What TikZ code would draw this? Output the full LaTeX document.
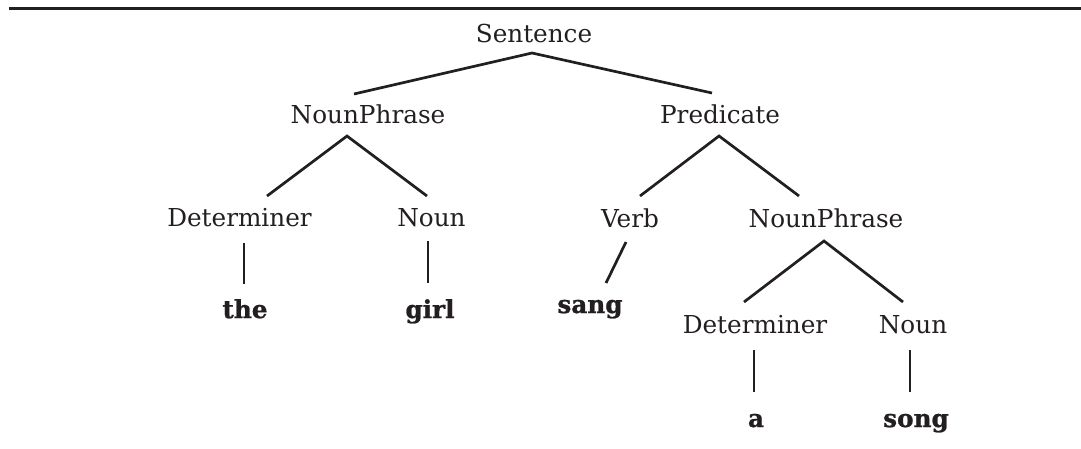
\documentclass[tikz,border=0pt]{standalone}
\usepackage{fontspec}
\setmainfont{DejaVu Serif}[BoldFeatures={FakeBold=1}]
\usetikzlibrary{calc}
\definecolor{ink}{RGB}{35,31,32}
\begin{document}
\begin{tikzpicture}[x=1pt,y=-1pt,
  lbl/.style={anchor=base,inner sep=0pt,text=ink,font=\fontsize{24.7}{30}\selectfont},
  leaf/.style={lbl,font=\fontsize{24.7}{30}\selectfont\bfseries},
  edge/.style={draw=ink,line width=2.7pt}]
\useasboundingbox (0,0) rectangle (1081,448);
\draw[ink,line width=3pt] (9,8.5) -- (1081,8.5);
% nodes
\node[lbl] (S) at (534,42) {Sentence};
\node[lbl] (NP1) at (368,123) {NounPhrase};
\node[lbl] (Pred) at (720,123) {Predicate};
\node[lbl] (Det1) at (239.5,226) {Determiner};
\node[lbl] (Noun1) at (431.5,226) {Noun};
\node[lbl] (Verb) at (630,227) {Verb};
\node[lbl] (NP2) at (826,227) {NounPhrase};
\node[leaf] (the) at (245,318) {the};
\node[leaf] (girl) at (430,318) {girl};
\node[leaf] (sang) at (590,313) {sang};
\node[lbl] (Det2) at (755,333) {Determiner};
\node[lbl] (Noun2) at (913,333) {Noun};
\node[leaf] (a) at (756,427) {a};
\node[leaf] (song) at (916,427) {song};
% connector end points
\coordinate (S-b) at ($(S.base)+(-2,11)$);
\coordinate (NP1-t) at ($(NP1.base)+(-14,-29)$);
\coordinate (NP1-b) at ($(NP1.base)+(-21,13)$);
\coordinate (Pred-t) at ($(Pred.base)+(-8,-30)$);
\coordinate (Pred-b) at ($(Pred.base)+(-1,13)$);
\coordinate (Det1-t) at ($(Det1.base)+(27.5,-30)$);
\coordinate (Det1-b) at ($(Det1.base)+(4.5,17)$);
\coordinate (Noun1-t) at ($(Noun1.base)+(-4.5,-30)$);
\coordinate (Noun1-b) at ($(Noun1.base)+(-3.5,15)$);
\coordinate (Verb-t) at ($(Verb.base)+(10,-31)$);
\coordinate (Verb-b) at ($(Verb.base)+(-4,15)$);
\coordinate (NP2-t) at ($(NP2.base)+(-27,-31)$);
\coordinate (NP2-b) at ($(NP2.base)+(-2,14)$);
\coordinate (the-t) at ($(the.base)+(-1,-34)$);
\coordinate (girl-t) at ($(girl.base)+(-2,-35)$);
\coordinate (sang-t) at ($(sang.base)+(16,-30)$);
\coordinate (Det2-t) at ($(Det2.base)+(-11,-31)$);
\coordinate (Det2-b) at ($(Det2.base)+(-1,17)$);
\coordinate (Noun2-t) at ($(Noun2.base)+(-10,-31)$);
\coordinate (Noun2-b) at ($(Noun2.base)+(-3,17)$);
\coordinate (a-t) at ($(a.base)+(-2,-35)$);
\coordinate (song-t) at ($(song.base)+(-6,-35)$);
% connectors
\draw[edge] (NP1-t) -- (S-b) -- (Pred-t);
\draw[edge] (Det1-t) -- (NP1-b) -- (Noun1-t);
\draw[edge] (Verb-t) -- (Pred-b) -- (NP2-t);
\draw[edge] (Det1-b) -- (the-t);
\draw[edge] (Noun1-b) -- (girl-t);
\draw[edge] (Verb-b) -- (sang-t);
\draw[edge] (Det2-t) -- (NP2-b) -- (Noun2-t);
\draw[edge] (Det2-b) -- (a-t);
\draw[edge] (Noun2-b) -- (song-t);
\end{tikzpicture}
\end{document}
